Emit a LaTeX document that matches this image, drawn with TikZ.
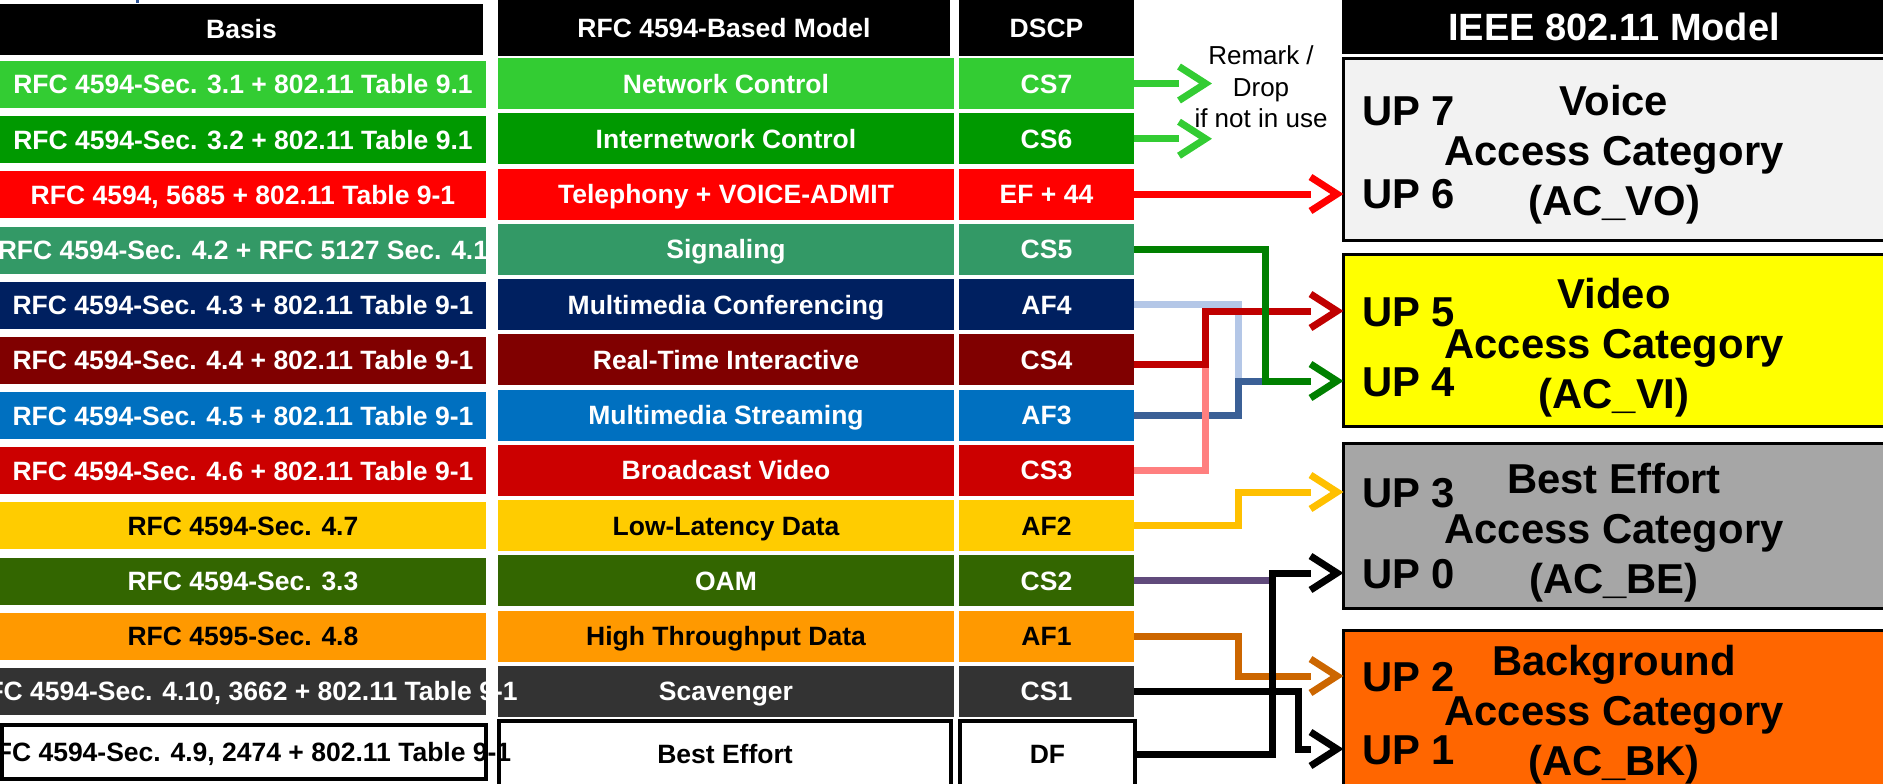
\documentclass[tikz,border=0pt]{standalone}
\usepackage{fontspec}
\setmainfont{Liberation Sans}
\usetikzlibrary{arrows.meta}

\pgfdeclarearrow{
  name = Chev,
  parameters = {\the\pgfarrowlength,\the\pgfarrowwidth},
  setup code = {
    \pgfarrowssettipend{0pt}
    \pgfarrowssetlineend{-\pgfarrowlength}
    \pgfarrowssetbackend{-\pgfarrowlength}
    \pgfarrowsupperhullpoint{-\pgfarrowlength}{.5\pgfarrowwidth}
    \pgfarrowshullpoint{0pt}{0pt}
    \pgfarrowssavethe\pgfarrowlength
    \pgfarrowssavethe\pgfarrowwidth
  },
  drawing code = {
    \pgfsetdash{}{0pt}
    \pgfsetmiterjoin
    \pgfsetbuttcap
    \pgfpathmoveto{\pgfqpoint{-\pgfarrowlength}{.5\pgfarrowwidth}}
    \pgfpathlineto{\pgfqpoint{-6.5pt}{0pt}}
    \pgfpathlineto{\pgfqpoint{-\pgfarrowlength}{-.5\pgfarrowwidth}}
    \pgfusepathqstroke
  },
  defaults = {length = 33pt, width = 34pt}
}

% row fills
\definecolor{rA}{HTML}{33CC33}
\definecolor{rB}{HTML}{009900}
\definecolor{rC}{HTML}{FF0000}
\definecolor{rD}{HTML}{339966}
\definecolor{rE}{HTML}{002060}
\definecolor{rF}{HTML}{800000}
\definecolor{rG}{HTML}{0070C0}
\definecolor{rH}{HTML}{CC0000}
\definecolor{rI}{HTML}{FFCC00}
\definecolor{rJ}{HTML}{336600}
\definecolor{rK}{HTML}{FF9900}
\definecolor{rL}{HTML}{333333}
% access category fills
\definecolor{acVO}{HTML}{F2F2F2}
\definecolor{acVI}{HTML}{FFFF00}
\definecolor{acBE}{HTML}{A6A6A6}
\definecolor{acBK}{HTML}{FF6600}
% connector colours
\definecolor{lnLG}{HTML}{33CC33}
\definecolor{lnRD}{HTML}{FF0000}
\definecolor{lnGR}{HTML}{008000}
\definecolor{lnLB}{HTML}{B4C7E7}
\definecolor{lnDR}{HTML}{C00000}
\definecolor{lnSB}{HTML}{3B6096}
\definecolor{lnPK}{HTML}{FF7F7F}
\definecolor{lnGD}{HTML}{FFC000}
\definecolor{lnPU}{HTML}{604A7B}
\definecolor{lnBR}{HTML}{CC6600}
\definecolor{tick}{HTML}{2F5597}

\newcommand\cellfnt{\fontsize{26.5}{30}\selectfont\bfseries}
\newcommand\bigfnt{\fontsize{41.8}{50}\selectfont\bfseries}
\newcommand\hdrfnt{\fontsize{38}{44}\selectfont\bfseries}
\newcommand\remfnt{\fontsize{26}{31.5}\selectfont}

\begin{document}
\begin{tikzpicture}[x=1pt,y=-1pt,
  tcell/.style={rectangle, inner sep=0pt, outer sep=0pt, font=\cellfnt,
    text height=19pt, text depth=0pt, text=white},
  bcell/.style={tcell, minimum width=486pt, minimum height=47pt},
  mcell/.style={tcell, minimum width=456pt, minimum height=51pt},
  dcell/.style={tcell, minimum width=175pt, minimum height=51pt},
  hdr/.style={tcell, fill=black},
  lastrow/.style={fill=white, draw=black, line width=4pt, text=black},
  acbox/.style={rectangle, draw=black, line width=3pt, inner sep=0pt,
    outer sep=0pt, minimum width=542.5pt},
  uplbl/.style={anchor=west, inner sep=0pt, font=\bigfnt,
    text height=30pt, text depth=0pt},
  actitle/.style={align=center, inner sep=0pt, font=\bigfnt},
  lnk/.style={line width=7pt, -{Chev[length=33pt,width=34pt]}},
  seg/.style={line width=7pt}
]
\useasboundingbox (0,0) rectangle (1883,784);
\fill[tick] (135.5,0) rectangle (139,3);

% ---- headers
\node[hdr, minimum width=483pt, minimum height=51pt] (hb) at (241.5,29.5) {Basis};
\node[hdr, minimum width=452pt, minimum height=56pt] (hm) at (724,28.5) {RFC 4594-Based Model};
\node[hdr, minimum width=175pt, minimum height=56pt] (hd) at (1046.5,28.5) {DSCP};
\node[hdr, font=\hdrfnt, text height=27pt, minimum width=544pt, minimum height=54pt] (hi) at (1614,27) {IEEE 802.11 Model};

% ---- RFC 4594-based model column
\node[mcell, fill=rA] (m1) at (726,83.5) {Network Control};
\node[mcell, fill=rB] (m2) at (726,138.75) {Internetwork Control};
\node[mcell, fill=rC] (m3) at (726,194) {Telephony + VOICE-ADMIT};
\node[mcell, fill=rD] (m4) at (726,249.25) {Signaling};
\node[mcell, fill=rE] (m5) at (726,304.5) {Multimedia Conferencing};
\node[mcell, fill=rF] (m6) at (726,359.75) {Real-Time Interactive};
\node[mcell, fill=rG] (m7) at (726,415) {Multimedia Streaming};
\node[mcell, fill=rH] (m8) at (726,470.25) {Broadcast Video};
\node[mcell, fill=rI, text=black] (m9) at (726,525.5) {Low-Latency Data};
\node[mcell, fill=rJ] (m10) at (726,580.75) {OAM};
\node[mcell, fill=rK, text=black] (m11) at (726,636) {High Throughput Data};
\node[mcell, fill=rL] (m12) at (726,691.25) {Scavenger};
\node[mcell, lastrow, minimum width=452pt, minimum height=66pt] (m13) at (725,754) {Best Effort};

% ---- DSCP column
\node[dcell, fill=rA] (d1) at (1046.5,83.5) {CS7};
\node[dcell, fill=rB] (d2) at (1046.5,138.75) {CS6};
\node[dcell, fill=rC] (d3) at (1046.5,194) {EF + 44};
\node[dcell, fill=rD] (d4) at (1046.5,249.25) {CS5};
\node[dcell, fill=rE] (d5) at (1046.5,304.5) {AF4};
\node[dcell, fill=rF] (d6) at (1046.5,359.75) {CS4};
\node[dcell, fill=rG] (d7) at (1046.5,415) {AF3};
\node[dcell, fill=rH] (d8) at (1046.5,470.25) {CS3};
\node[dcell, fill=rI, text=black] (d9) at (1046.5,525.5) {AF2};
\node[dcell, fill=rJ] (d10) at (1046.5,580.75) {CS2};
\node[dcell, fill=rK, text=black] (d11) at (1046.5,636) {AF1};
\node[dcell, fill=rL] (d12) at (1046.5,691.25) {CS1};
\node[dcell, lastrow, minimum width=175pt, minimum height=66pt] (d13) at (1047.5,754) {DF};

% ---- Basis column
\node[bcell, fill=rA] (b1) at (243,84.5) {RFC 4594-Sec. 3.1 + 802.11 Table 9.1};
\node[bcell, fill=rB] (b2) at (243,139.7) {RFC 4594-Sec. 3.2 + 802.11 Table 9.1};
\node[bcell, fill=rC] (b3) at (243,194.8) {RFC 4594, 5685 + 802.11 Table 9-1};
\node[bcell, fill=rD] (b4) at (243,250) {\makebox[0pt]{RFC 4594-Sec. 4.2 + RFC 5127 Sec. 4.1}};
\node[bcell, fill=rE] (b5) at (243,305.2) {RFC 4594-Sec. 4.3 + 802.11 Table 9-1};
\node[bcell, fill=rF] (b6) at (243,360.4) {RFC 4594-Sec. 4.4 + 802.11 Table 9-1};
\node[bcell, fill=rG] (b7) at (243,415.5) {RFC 4594-Sec. 4.5 + 802.11 Table 9-1};
\node[bcell, fill=rH] (b8) at (243,470.7) {RFC 4594-Sec. 4.6 + 802.11 Table 9-1};
\node[bcell, fill=rI, text=black] (b9) at (243,525.9) {RFC 4594-Sec. 4.7};
\node[bcell, fill=rJ] (b10) at (243,581) {RFC 4594-Sec. 3.3};
\node[bcell, fill=rK, text=black] (b11) at (243,636.2) {RFC 4595-Sec. 4.8};
\node[bcell, fill=rL] (b12) at (243,691.4) {\makebox[0pt]{RFC 4594-Sec. 4.10, 3662 + 802.11 Table 9-1}};
\node[bcell, lastrow, minimum width=484pt, minimum height=54pt] (b13) at (244,752) {\makebox[0pt]{RFC 4594-Sec. 4.9, 2474 + 802.11 Table 9-1}};

% ---- IEEE 802.11 access categories
\node[acbox, fill=acVO, minimum height=182pt] (vo) at (1614.75,149.5) {};
\node[acbox, fill=acVI, minimum height=172pt] (vi) at (1614.75,340.5) {};
\node[acbox, fill=acBE, minimum height=165pt] (be) at (1614.75,526) {};
\node[acbox, fill=acBK, minimum height=169.5pt] (bk) at (1614.75,715.25) {};

\node[actitle] (tvo) at (1614,155) {Voice\\Access Category\\(AC\_VO)};
\node[actitle] (tvi) at (1614,348) {Video\\Access Category\\(AC\_VI)};
\node[actitle] (tbe) at (1614,533) {Best Effort\\Access Category\\(AC\_BE)};
\node[actitle] (tbk) at (1614,715) {Background\\Access Category\\(AC\_BK)};

\node[uplbl] (up7) at (1362,110) {UP 7};
\node[uplbl] (up6) at (1362,193) {UP 6};
\node[uplbl] (up5) at (1362,311) {UP 5};
\node[uplbl] (up4) at (1362,381) {UP 4};
\node[uplbl] (up3) at (1362,492) {UP 3};
\node[uplbl] (up0) at (1362,573) {UP 0};
\node[uplbl] (up2) at (1362,676) {UP 2};
\node[uplbl] (up1) at (1362,749) {UP 1};

% ---- remark note
\node[align=center, inner sep=0pt, font=\remfnt] (rem) at (1261,87) {Remark /\\Drop\\if not in use};

% ---- junction columns
\coordinate (xA) at (1205,0);
\coordinate (xB) at (1238,0);
\coordinate (xC) at (1265,0);
\coordinate (xD) at (1272,0);
\coordinate (xE) at (1298,0);
\coordinate (xF) at (1212,0);
\coordinate (j6) at ([yshift=-5pt]d6.east);

% ---- connectors
\draw[lnk, lnLG] (d1.east) -- (d1.east -| xF);
\draw[lnk, lnLG] (d2.east) -- (d2.east -| xF);
\draw[lnk, lnRD] (d3.east) -- (vo.west |- d3.east);
\draw[seg, lnLB] (d5.east) -| (xB |- up4.west);
\draw[seg, lnSB] (d7.east) -| (xB |- up4.west) -- (xC |- up4.west);
\draw[seg, lnPK] (d8.east) -| (xA |- j6);
\draw[lnk, lnDR] (j6) -| (xA |- up5.west) -- (vi.west |- up5.west);
\draw[lnk, lnGR] (d4.east) -| (xC |- up4.west) -- (vi.west |- up4.west);
\draw[lnk, lnGD] (d9.east) -| (xB |- up3.west) -- (be.west |- up3.west);
\draw[seg, lnPU] (d10.east) -- ([xshift=4pt]xD |- d10.east);
\draw[lnk, lnBR] (d11.east) -| (xB |- up2.west) -- (bk.west |- up2.west);
\draw[lnk, black] (d12.east) -| (xE |- up1.west) -- (bk.west |- up1.west);
\draw[lnk, black] (d13.east) -| (xD |- up0.west) -- (be.west |- up0.west);
\end{tikzpicture}
\end{document}
